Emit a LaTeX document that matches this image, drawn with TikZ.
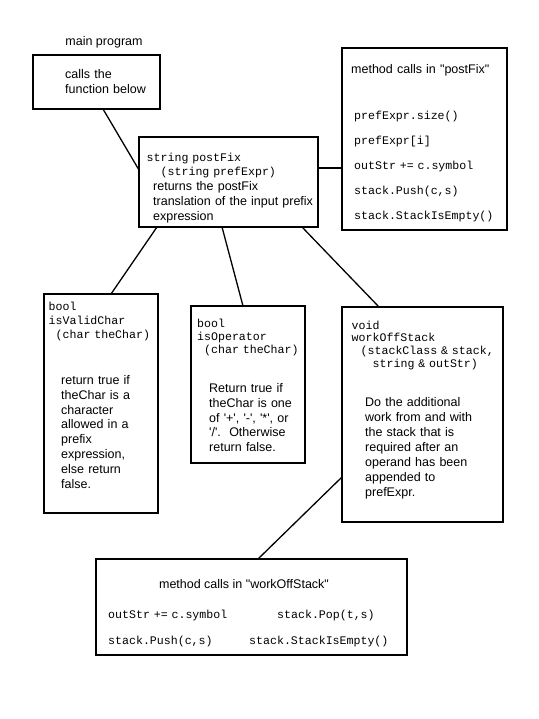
\documentclass[tikz,border=0pt]{standalone}
\usepackage{fontspec}
\setmainfont{Liberation Sans}[Ligatures=TeXOff]
\newfontfamily\codefont{Liberation Mono}[Ligatures=TeXOff]
\usepackage{tikz}

\begin{document}
\begin{tikzpicture}[x=1pt, y=-1pt,
  box/.style={draw, line width=1.6pt, outer sep=0pt, inner sep=0pt,
    anchor=north west},
  desc/.style={font=\fontsize{12.5}{14.8}\selectfont, inner sep=0pt,
    anchor=base west, align=left, text width=#1},
  desc/.default=200pt,
  code/.style={font=\codefont\fontsize{11.6}{13.6}\selectfont, inner sep=0pt,
    anchor=base west, align=left, text width=#1},
  code/.default=200pt,
  title/.style={font=\fontsize{12.5}{14.8}\selectfont, inner sep=0pt},
  link/.style={line width=1.3pt}
]
  \useasboundingbox (0,0) rectangle (538,719);

  \node[title] (maintitle) at (104,42) {main program};
  \node[box, minimum width=127pt, minimum height=54pt] (main) at (33,55) {};
  \node[desc] (maintext) at (65,79) {calls the\\function below};

  \node[box, minimum width=179pt, minimum height=90pt] (post) at (139,137) {};
  \node[code] (postsig) at (146.5,162) {string postFix\\\hspace*{14pt}(string prefExpr)};
  \node[desc] (posttext) at (153,191) {returns the postFix\\translation of the input prefix\\expression};

  \node[box, minimum width=165pt, minimum height=182pt] (calls) at (342,48) {};
  \node[desc] (callstitle) at (351,74) {method calls in "postFix"};
  \node[code, font=\codefont\fontsize{11.6}{25}\selectfont] (callslist) at (354,120)
    {prefExpr.size()\\prefExpr[i]\\outStr += c.symbol\\stack.Push(c,s)\\stack.StackIsEmpty()};

  \node[box, minimum width=114pt, minimum height=219pt] (valid) at (44,294) {};
  \node[code, font=\codefont\fontsize{11.6}{14.4}\selectfont] (validsig) at (48.5,310)
    {bool\\isValidChar\\\hspace*{7pt}(char theChar)};
  \node[desc] (validtext) at (61,384.5) {return true if\\theChar is a\\character\\allowed in a\\prefix\\expression,\\else return\\false.};

  \node[box, minimum width=114pt, minimum height=157pt] (oper) at (191,306) {};
  \node[code, font=\codefont\fontsize{11.6}{13}\selectfont] (opersig) at (197,327)
    {bool\\isOperator\\\hspace*{7pt}(char theChar)};
  \node[desc] (opertext) at (209,392.5) {Return true if\\theChar is one\\of '+', '-', '*', or\\'/'.\ \ Otherwise\\return false.};

  \node[box, minimum width=161pt, minimum height=215pt] (work) at (342,307) {};
  \node[code, font=\codefont\fontsize{11.6}{12.8}\selectfont] (worksig) at (351.5,329)
    {void\\workOffStack\\\hspace*{9pt}(stackClass \& stack,\\\hspace*{21pt}string \& outStr)};
  \node[desc, font=\fontsize{12.5}{15}\selectfont] (worktext) at (365,406.5)
    {Do the additional\\work from and with\\the stack that is\\required after an\\operand has been\\appended to\\prefExpr.};

  \node[box, minimum width=311pt, minimum height=96pt] (calls2) at (96,559) {};
  \node[title] (calls2title) at (244,584) {method calls in "workOffStack"};
  \node[code, font=\codefont\fontsize{11.6}{26}\selectfont] (calls2left) at (108,618)
    {outStr += c.symbol\\stack.Push(c,s)};
  \node[code] (calls2pop) at (277,618) {stack.Pop(t,s)};
  \node[code] (calls2empty) at (249,644) {stack.StackIsEmpty()};

  \draw[link] ([xshift=70pt]main.south west) -- ([yshift=-33pt]post.north west);
  \coordinate (postright) at ([yshift=-31pt]post.north east);
  \draw[link] (postright) -- (postright -| calls.west);
  \draw[link] ([xshift=18pt]post.south west) -- ([xshift=67pt]valid.north west);
  \draw[link] ([xshift=83pt]post.south west) -- ([xshift=52pt]oper.north west);
  \draw[link] ([xshift=163pt]post.south west) -- ([xshift=37pt]work.north west);
  \draw[link] ([yshift=-170pt]work.north west) -- ([xshift=162pt]calls2.north west);
\end{tikzpicture}
\end{document}
